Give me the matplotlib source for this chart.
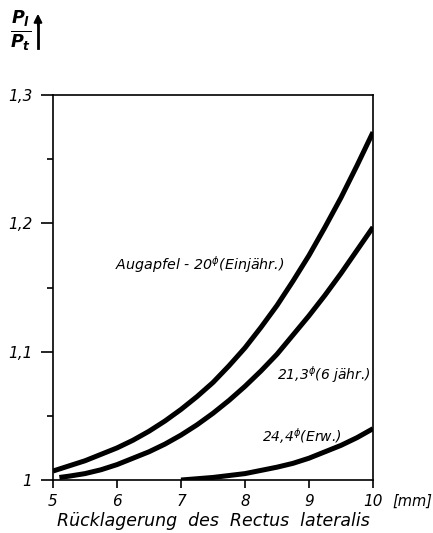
import matplotlib.pyplot as plt
from matplotlib.ticker import MultipleLocator

x_20 = [5.0, 5.25, 5.5, 5.75, 6.0, 6.25, 6.5, 6.75, 7.0, 7.25, 7.5,
        7.75, 8.0, 8.25, 8.5, 8.75, 9.0, 9.25, 9.5, 9.75, 10.0]
y_20 = [1.007, 1.011, 1.015, 1.020, 1.025, 1.031, 1.038, 1.046, 1.055, 1.065, 1.076,
        1.089, 1.103, 1.119, 1.136, 1.155, 1.175, 1.197, 1.220, 1.245, 1.271]

x_21 = [5.1, 5.25, 5.5, 5.75, 6.0, 6.25, 6.5, 6.75, 7.0, 7.25, 7.5,
        7.75, 8.0, 8.25, 8.5, 8.75, 9.0, 9.25, 9.5, 9.75, 10.0]
y_21 = [1.002, 1.003, 1.005, 1.008, 1.012, 1.017, 1.022, 1.028, 1.035, 1.043, 1.052,
        1.062, 1.073, 1.085, 1.098, 1.113, 1.128, 1.144, 1.161, 1.179, 1.197]

x_24 = [7.0, 7.25, 7.5, 7.75, 8.0, 8.25, 8.5, 8.75, 9.0, 9.25, 9.5, 9.75, 10.0]
y_24 = [1.000, 1.001, 1.002, 1.0035, 1.005, 1.0075, 1.010, 1.013, 1.017, 1.022, 1.027, 1.033, 1.040]

x_ticks = [5, 6, 7, 8, 9, 10]
y_ticks = [1.0, 1.1, 1.2, 1.3]
y_ticklabels = ['1', '1,1', '1,2', '1,3']

plt.rcParams['font.family'] = ['DejaVu Sans']
plt.rcParams['font.style'] = 'italic'
plt.rcParams['mathtext.default'] = 'it'

fig = plt.figure(figsize=(4.33, 5.33), dpi=100)
ax = fig.add_axes([0.1224, 0.0994, 0.739, 0.7224])

lw = 3.6
ax.plot(x_20, y_20, color='black', lw=lw, solid_capstyle='butt')
ax.plot(x_21, y_21, color='black', lw=lw, solid_capstyle='butt')
ax.plot(x_24, y_24, color='black', lw=lw, solid_capstyle='butt')

ax.set_xlim(5, 10)
ax.set_ylim(1.0, 1.3)
ax.set_xticks(x_ticks)
ax.set_xticklabels([str(v) for v in x_ticks])
ax.set_yticks(y_ticks)
ax.set_yticklabels(y_ticklabels)
ax.yaxis.set_minor_locator(MultipleLocator(0.05))

for s in ax.spines.values():
    s.set_linewidth(1.2)
ax.tick_params(axis='x', direction='out', length=6, width=1.2, pad=4, labelsize=11)
ax.tick_params(axis='y', which='major', direction='out', length=9, width=1.2, pad=6, labelsize=11)
ax.tick_params(axis='y', which='minor', direction='out', length=4.5, width=1.2)
for lab in ax.get_xticklabels() + ax.get_yticklabels():
    lab.set_fontstyle('italic')

# Einheit hinter der letzten Teilung
ax.text(10.3, -0.055, '[mm]', transform=ax.get_xaxis_transform(), fontsize=10.5,
        style='italic', ha='left', va='center', clip_on=False)

ax.set_xlabel('Rücklagerung  des  Rectus  lateralis', fontsize=12.5,
              style='italic', labelpad=2)

# Kurvenbeschriftungen
ax.text(5.97, 1.168, 'Augapfel - 20$^{\\phi}$(Einjähr.)', fontsize=10.3,
        style='italic', ha='left', va='center')
ax.text(8.5, 1.082, '21,3$^{\\phi}$(6 jähr.)', fontsize=10,
        style='italic', ha='left', va='center')
ax.text(8.27, 1.034, '24,4$^{\\phi}$(Erw.)', fontsize=10,
        style='italic', ha='left', va='center')

# Achsenbezeichnung der Ordinate mit Pfeil
fig.text(0.048, 1 - 31 / 533, r'$\mathbf{\frac{P_l}{P_t}}$', fontsize=18, ha='center', va='center')
fig.add_artist(plt.Line2D([0.0877, 0.0877], [1 - 48 / 533, 1 - 20 / 533],
                          color='black', lw=2.0))
ax.annotate('', xy=(0.0877, 1 - 11 / 533), xytext=(0.0877, 1 - 28 / 533),
            xycoords='figure fraction',
            arrowprops=dict(arrowstyle='-|>', color='black', lw=1.5,
                            mutation_scale=12))

fig.savefig('out.png', dpi=100)
